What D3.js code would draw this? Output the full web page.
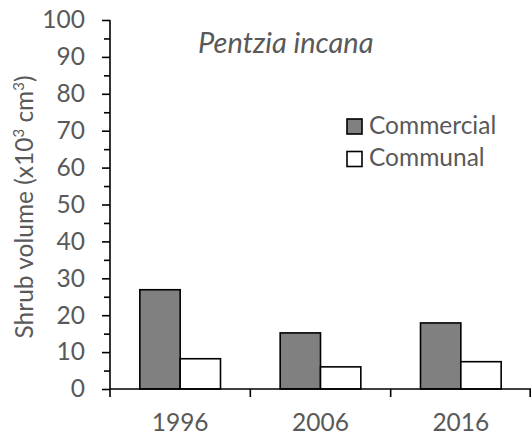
<!DOCTYPE html>
<html>
<head>
<meta charset="utf-8">
<script src="https://cdn.jsdelivr.net/npm/d3@7"></script>
<style>
  body { margin: 0; background: #fff; }
  text { font-family: Lato, "Open Sans", sans-serif; fill: #595959; }
</style>
</head>
<body>
<div id="chart"></div>
<script>
var years = ['1996', '2006', '2016'];
var series = ['Commercial', 'Communal'];
var commercial = [26.9, 15.2, 17.9];
var communal = [8.2, 6.0, 7.4];
var majorTicks = [0, 10, 20, 30, 40, 50, 60, 70, 80, 90, 100];
var minorTicks = [5, 15, 25, 35, 45, 55, 65, 75, 85, 95];
var fills = ['#808080', '#ffffff'];

var width = 532, height = 437;
var margin = {top: 20, right: 1, bottom: 48, left: 110};

var svg = d3.select('#chart').append('svg')
  .attr('width', width)
  .attr('height', height);

var y = d3.scaleLinear()
  .domain([0, 100])
  .range([height - margin.bottom, margin.top]);

var x = d3.scaleBand()
  .domain(years)
  .range([margin.left, width - margin.right]);

var xs = d3.scaleBand()
  .domain(series)
  .range([0, x.bandwidth()])
  .paddingOuter(0.74);

var rows = years.map(function(yr, i) {
  return {year: yr, values: [commercial[i], communal[i]]};
});

// bars
var g = svg.selectAll('g.year')
  .data(rows)
  .enter().append('g')
  .attr('class', 'year')
  .attr('transform', function(d) { return 'translate(' + x(d.year) + ',0)'; });

g.selectAll('rect')
  .data(function(d) { return d.values.map(function(v, j) { return {key: series[j], value: v, j: j}; }); })
  .enter().append('rect')
  .attr('x', function(d) { return xs(d.key); })
  .attr('y', function(d) { return y(d.value); })
  .attr('width', xs.bandwidth())
  .attr('height', function(d) { return y(0) - y(d.value); })
  .attr('fill', function(d) { return fills[d.j]; })
  .attr('stroke', '#000')
  .attr('stroke-width', 1.6);

// y axis, minor then major ticks
svg.append('g')
  .attr('transform', 'translate(' + margin.left + ',0)')
  .call(d3.axisLeft(y).tickValues(minorTicks).tickSize(6).tickFormat(''))
  .call(function(a) { a.select('.domain').remove(); })
  .selectAll('line').attr('stroke', '#000').attr('stroke-width', 1.6);

var yAxis = svg.append('g')
  .attr('transform', 'translate(' + margin.left + ',0)')
  .call(d3.axisLeft(y).tickValues(majorTicks).tickSize(8).tickSizeOuter(0).tickPadding(17));
yAxis.select('.domain').remove();
yAxis.selectAll('line').attr('stroke', '#000').attr('stroke-width', 1.6);
yAxis.selectAll('text').style('font-size', '24.5px').attr('fill', '#595959');

svg.append('line')
  .attr('x1', margin.left).attr('x2', margin.left)
  .attr('y1', y(100)).attr('y2', y(0) + 8)
  .attr('stroke', '#000').attr('stroke-width', 1.6);

// x axis
var xAxis = svg.append('g')
  .attr('transform', 'translate(0,' + y(0) + ')')
  .call(d3.axisBottom(x).tickSize(0).tickPadding(25));
xAxis.select('.domain').attr('stroke', '#000').attr('stroke-width', 1.6).attr('d', 'M' + margin.left + ',0H' + (width - margin.right));
xAxis.selectAll('text').style('font-size', '24.5px').attr('fill', '#595959');

svg.append('g').selectAll('line')
  .data(years.slice(1).concat(['end']))
  .enter().append('line')
  .attr('x1', function(d) { return d === 'end' ? x.range()[1] - 0.8 : x(d); })
  .attr('x2', function(d) { return d === 'end' ? x.range()[1] - 0.8 : x(d); })
  .attr('y1', y(0)).attr('y2', y(0) + 8)
  .attr('stroke', '#000').attr('stroke-width', 1.6);

// title
svg.append('text')
  .attr('x', 198).attr('y', 53)
  .style('font-size', '29px').style('font-style', 'italic')
  .text('Pentzia incana');

// y label
var yl = svg.append('text')
  .attr('transform', 'translate(33,' + 207 + ') rotate(-90)')
  .attr('text-anchor', 'middle')
  .style('font-size', '24.5px');
yl.append('tspan').text('Shrub volume (x10');
yl.append('tspan').attr('dy', -9).style('font-size', '15px').text('3');
yl.append('tspan').attr('dy', 9).text(' cm');
yl.append('tspan').attr('dy', -9).style('font-size', '15px').text('3');
yl.append('tspan').attr('dy', 9).text(')');

// legend
var legend = svg.append('g')
  .selectAll('g')
  .data(series)
  .enter().append('g')
  .attr('transform', function(d, i) { return 'translate(347,' + (119 + i * 32.5) + ')'; });
legend.append('rect')
  .attr('width', 15).attr('height', 15)
  .attr('fill', function(d, i) { return fills[i]; })
  .attr('stroke', '#000').attr('stroke-width', 1.6);
legend.append('text')
  .attr('x', 22).attr('y', 14.5)
  .style('font-size', '24.5px')
  .text(function(d) { return d; });
</script>
</body>
</html>
